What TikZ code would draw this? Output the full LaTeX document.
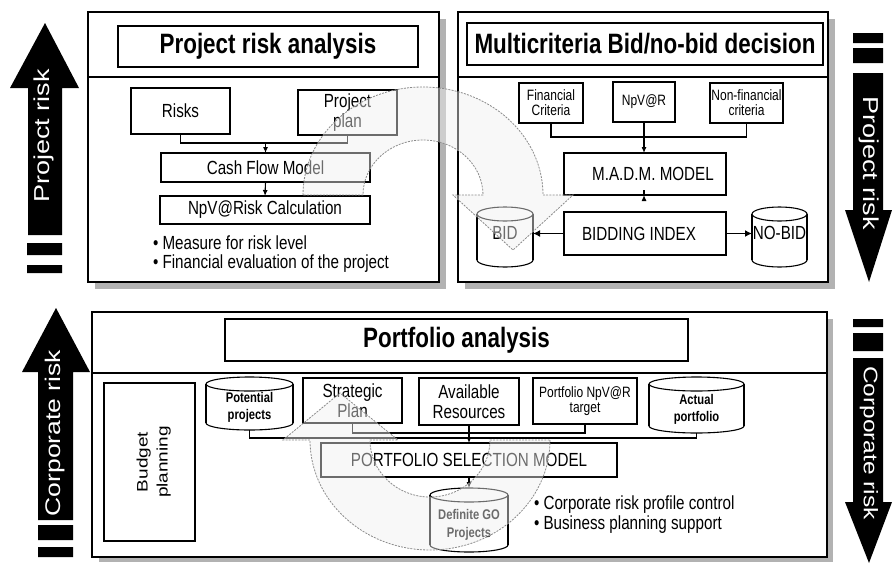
\documentclass[tikz,border=0pt]{standalone}
\usepackage{graphicx}
\usepackage{fontspec}
\setmainfont{Liberation Sans}[FakeStretch=0.8]
\newfontfamily\rotfont{Liberation Sans}
\usetikzlibrary{arrows.meta}
\newcommand\fs[2]{\fontsize{#1}{#2}\selectfont}
% name, style, x1, y1, x2, y2, text
\newcommand\bnode[7]{\node[#2, minimum width={#5-#3}, minimum height={#6-#4}] (#1) at ({(#3+#5)/2},{(#4+#6)/2}) {#7};}
% name, x1, y1, x2, y2, font, text, text yshift
\newcommand\cylnode[8]{%
  \fill[white] (#2,{#3+7}) rectangle (#4,{#5-7});
  \fill[white] ({(#2+#4)/2},{#5-7}) ellipse [x radius={(#4-#2)/2}, y radius=7];
  \begin{scope}
    \clip ({#2-3},{#5-7}) rectangle ({#4+3},{#5+3});
    \draw[cylline] ({(#2+#4)/2},{#5-7}) ellipse [x radius={(#4-#2)/2}, y radius=7];
  \end{scope}
  \draw[cylline] (#2,{#3+7}) -- (#2,{#5-7}) (#4,{#3+7}) -- (#4,{#5-7});
  \draw[cylline, fill=white] ({(#2+#4)/2},{#3+7}) ellipse [x radius={(#4-#2)/2}, y radius=7];
  \node[cylbox, minimum width={#4-#2}, minimum height={#5-#3}] (#1) at ({(#2+#4)/2},{(#3+#5)/2}) {};
  \node[font=#6, align=center, inner sep=0] (#1txt) at ([yshift=#8]#1.center) {#7};
}
\begin{document}
\begin{tikzpicture}[x=1pt,y=-1pt,
  every node/.style={inner sep=0pt, outer sep=0pt},
  panel/.style={draw, line width=1.4, fill=white},
  shadowbox/.style={fill=gray!60},
  box/.style={draw, line width=1.1, fill=white, align=center, font=\fs{19}{20}},
  sbox/.style={draw, line width=1.1, fill=white, align=center, font=\fs{15}{15}},
  tbox/.style={draw, line width=1.1, fill=white, font=\fs{28}{30}\bfseries},
  cylline/.style={line width=1.1},
  cylbox/.style={draw=none},
  conn/.style={line width=1.1},
  arr/.style={line width=1.1, -{Latex[length=6pt,width=5pt]}},
  thickarr/.style={line width=1.8, -{Latex[length=7pt,width=7pt]}},
  bigarrow/.style={draw=gray!90, dash pattern=on 2pt off 1.2pt, line width=0.8, fill=gray!12, fill opacity=0.45},
  sidetxt/.style={text=white}
]
\useasboundingbox (0,0) rectangle (894,563);
\fill[white] (0,0) rectangle (894,563);

% ---------- side arrows ----------
\fill (28,235) -- (28,88) -- (10,88) -- (45,23) -- (79,88) -- (62,88) -- (62,235) -- cycle;
\fill (27,243) rectangle (62,255) (27,265) rectangle (62,273);
\node[sidetxt, rotate=90] (sa1) at (44,136) {\rotfont\fs{27}{27}\scalebox{1}[0.8]{Project risk}};

\fill (853,33) rectangle (883,43) (853,48) rectangle (883,63);
\fill (853,73) -- (853,210) -- (845,210) -- (869,282) -- (892,210) -- (883,210) -- (883,73) -- cycle;
\node[sidetxt, rotate=-90] (sa2) at (869,163) {\rotfont\fs{27}{27}\scalebox{1}[0.8]{Project risk}};

\fill (38,520) -- (38,372) -- (22,372) -- (56,308) -- (90,372) -- (73,372) -- (73,520) -- cycle;
\fill (38,525) rectangle (73,540) (38,547) rectangle (73,557);
\node[sidetxt, rotate=90] (sa3) at (55,433) {\rotfont\fs{26.5}{27}\scalebox{1}[0.8]{Corporate risk}};

\fill (853,319) rectangle (883,327) (853,333) rectangle (883,351);
\fill (853,358) -- (853,502) -- (845,502) -- (869,563) -- (892,502) -- (883,502) -- (883,358) -- cycle;
\node[sidetxt, rotate=-90] (sa4) at (869,443) {\rotfont\fs{24.5}{25}\scalebox{1}[0.8]{Corporate risk}};

% ---------- panels ----------
\fill[shadowbox] (95,19) rectangle (446,289);
\draw[panel] (88,12) rectangle (439,282);
\draw[line width=1.4] (88,77) -- (439,77);

\fill[shadowbox] (465,19) rectangle (835,289);
\draw[panel] (458,12) rectangle (828,282);
\draw[line width=1.4] (458,77) -- (828,77);

\fill[shadowbox] (99,319) rectangle (833,562);
\draw[panel] (92,312) rectangle (827,557);
\draw[line width=1.4] (92,373) -- (827,373);

% ---------- titles ----------
\bnode{t1}{tbox}{118}{26}{418}{67}{Project risk analysis}
\bnode{t2}{tbox}{467}{23}{823}{65}{Multicriteria Bid/no-bid decision}
\bnode{t3}{tbox}{225}{319}{688}{361}{Portfolio analysis}

% ---------- project risk analysis ----------
\bnode{risks}{box}{131}{88}{230}{134}{Risks}
\bnode{plan}{box}{298}{90}{397}{135}{Project\\plan}
\bnode{cf}{box}{161}{153}{370}{182}{Cash Flow Model}
\bnode{npv}{box}{160}{196}{370}{224}{NpV@Risk Calculation}
\node[anchor=west, align=left, font=\fs{19}{19}] (b1) at (153,254) {• Measure for risk level\\• Financial evaluation of the project};

\coordinate (j1) at (265.5,143);
\draw[conn] (risks.south) |- (j1) -| (plan.south);
\draw[arr] (j1) -- (cf.north);
\draw[arr] (cf.south) -- (npv.north);

% ---------- bid / no-bid ----------
\bnode{fin}{sbox}{519}{83}{583}{123}{Financial\\Criteria}
\bnode{npvr}{sbox}{613}{82}{675}{122}{NpV@R}
\bnode{nonfin}{sbox}{710}{83}{783}{123}{Non-financial\\criteria}
\bnode{madm}{box}{564}{153}{726}{195}{\hspace*{16pt}M.A.D.M. MODEL}
\bnode{bidx}{box}{564}{212}{726}{255}{BIDDING INDEX\hspace*{12pt}}
\cylnode{bid}{477}{207}{533}{267}{\fs{19}{20}}{BID}{4}
\cylnode{nobid}{752}{207}{807}{267}{\fs{19}{20}}{NO-BID}{4}

\coordinate (j2) at (644,137);
\draw[conn] (fin.south) |- (j2) -| (nonfin.south);
\draw[arr] (npvr.south) -- (npvr.south |- madm.north);
\draw[arr] (madm.south -| npvr.south) -- (madm.south -| npvr.south |- bidx.north);
\draw[thickarr] (bidx.west) -- (bidx.west -| bid.east);
\draw[thickarr] (bidx.east) -- (bidx.east -| nobid.west);

% ---------- portfolio analysis ----------
\bnode{bud}{box}{104}{383}{195}{541}{}
\node[rotate=90] (budtxt) at ([xshift=4pt]bud.center) {\rotfont\fs{19}{25}\scalebox{1}[0.8]{\begin{tabular}{@{}c@{}}Budget\\planning\end{tabular}}};
\cylnode{pot}{206}{377}{293}{430}{\fs{14}{17}\bfseries}{Potential\\projects}{-4}
\bnode{sp}{box}{303}{378}{402}{423}{Strategic\\Plan}
\bnode{ar}{box}{419}{378}{519}{425}{Available\\Resources}
\bnode{pnt}{sbox}{533}{378}{637}{424}{Portfolio NpV@R\\target}
\cylnode{act}{649}{377}{744}{433}{\fs{14}{17}\bfseries}{Actual\\portfolio}{-4}
\bnode{psm}{box}{321}{443}{617}{477}{PORTFOLIO SELECTION MODEL}
\cylnode{dgo}{430}{488}{508}{552}{\fs{14}{18}\bfseries}{Definite GO\\Projects}{-5}
\node[anchor=west, align=left, font=\fs{19}{20}] (b2) at (534,515) {• Corporate risk profile control\\• Business planning support};

\draw[conn] (pot.south) -- ++(0,8) -| (act.south);
\draw[conn] (sp.south) -- ++(0,10) -| (pnt.south);
\draw[arr] (ar.south) -- (psm.north);
\draw[arr] (psm.south) -- (dgo.north);

% ---------- big curved arrows ----------
\draw[bigarrow] (303,195) .. controls (303,135.4) and (356.7,87) .. (423,87)
  .. controls (489.3,87) and (543,135.4) .. (543,195) -- (573,195) -- (513,250) -- (453,195) -- (483,195)
  .. controls (483,164.6) and (456.1,140) .. (423,140)
  .. controls (389.9,140) and (363,164.6) .. (363,195) -- cycle;
\draw[bigarrow] (550,440) .. controls (550,500.8) and (496.3,550) .. (430,550)
  .. controls (363.7,550) and (310,500.8) .. (310,440) -- (283,440) -- (340,393) -- (398,440) -- (370,440)
  .. controls (370,471.5) and (396.9,497) .. (430,497)
  .. controls (463.1,497) and (490,471.5) .. (490,440) -- cycle;
\end{tikzpicture}
\end{document}
